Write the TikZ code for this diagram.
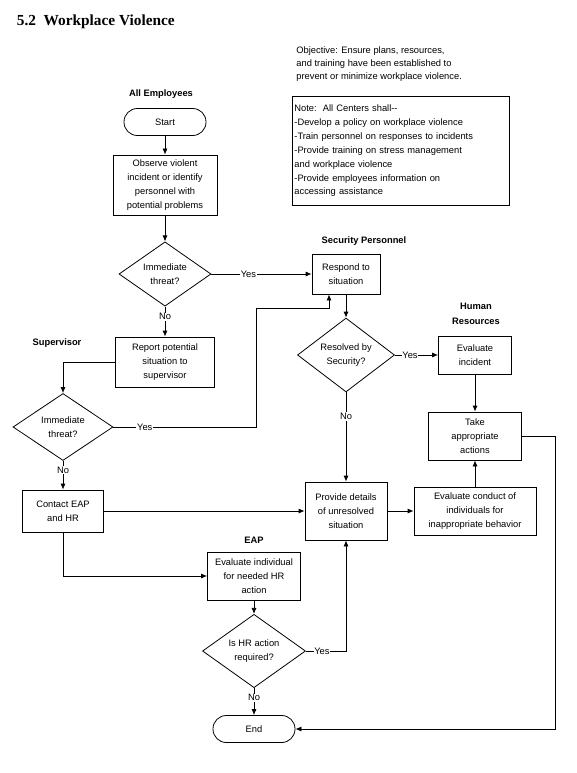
\documentclass[tikz,border=0pt]{standalone}
\usepackage{fontspec}
\setmainfont{Liberation Sans}
\newfontfamily\titlefont{Liberation Serif}
\usetikzlibrary{shapes.geometric,arrows.meta}

\begin{document}
\begin{tikzpicture}[x=0.75pt,y=-0.75pt,
    font=\fontsize{7}{10.4}\selectfont,
    line width=0.6pt,
    >={Latex[length=4.5pt,width=3.8pt]},
    box/.style={draw,align=center,inner sep=1pt},
    term/.style={draw,rounded corners=10pt,minimum width=61.5pt,minimum height=20.25pt},
    dec/.style={draw,diamond,align=center,inner sep=0pt},
    lane/.style={font=\fontsize{7}{11.25}\selectfont\bfseries,align=center},
    yn/.style={fill=white,inner sep=0.6pt}]
    \useasboundingbox (0,0) rectangle (577,773);
    \node[font=\titlefont\fontsize{11.5}{14}\selectfont\bfseries,anchor=base west] (title) at (12,26) {5.2\ \ Workplace Violence};
    \node[anchor=north west,align=left,inner sep=0pt,font=\fontsize{7}{9.75}\selectfont] (objective) at (296,46)
        {Objective: Ensure plans, resources,\\and training have been established to\\prevent or minimize workplace violence.};
    \node[draw,anchor=north west,align=left,text width=160pt,inner xsep=1.5pt,minimum height=81.75pt] (note) at (292,96)
        {Note:\ \ All Centers shall-{}-\\-Develop a policy on workplace violence\\-Train personnel on responses to incidents\\-Provide training on stress management\\and workplace violence\\-Provide employees information on\\accessing assistance};

    % lanes
    \node[lane] (allemp) at (161,94) {All Employees};
    \node[lane] (superv) at (57,343) {Supervisor};
    \node[lane] (secur) at (364,241) {Security Personnel};
    \node[lane] (hres) at (476,314) {Human\\Resources};
    \node[lane] (eap) at (254,540) {EAP};

    % steps
    \node[term] (start) at (165,122) {Start};
    \node[box,minimum width=78pt,minimum height=45pt] (observe) at (165,185) {Observe violent\\incident or identify\\personnel with\\potential problems};
    \node[dec,minimum width=69pt,minimum height=46.5pt] (dia1) at (165,274) {Immediate\\threat?};
    \node[box,minimum width=74.25pt,minimum height=37.5pt] (report) at (165,362) {Report potential\\situation to\\supervisor};
    \node[dec,minimum width=75pt,minimum height=50.25pt] (dia2) at (63,427) {Immediate\\threat?};
    \node[box,minimum width=60.75pt,minimum height=31.5pt] (contact) at (63,511) {Contact EAP\\and HR};
    \node[box,minimum width=51pt,minimum height=30pt] (respond) at (346,274) {Respond to\\situation};
    \node[dec,minimum width=72.75pt,minimum height=47.25pt] (resolved) at (346,355) {Resolved by\\Security?};
    \node[box,minimum width=61.5pt,minimum height=43.5pt] (provide) at (346,511) {Provide details\\of unresolved\\situation};
    \node[box,minimum width=54.75pt,minimum height=28.5pt] (evalinc) at (475,355) {Evaluate\\incident};
    \node[box,minimum width=69.75pt,minimum height=36pt] (take) at (475,436) {Take\\appropriate\\actions};
    \node[box,minimum width=91.5pt,minimum height=36pt] (evalcond) at (475,511) {Evaluate conduct of\\individuals for\\inappropriate behavior};
    \node[box,minimum width=69.75pt,minimum height=36pt] (evalind) at (254,576) {Evaluate individual\\for needed HR\\action};
    \node[dec,minimum width=77.25pt,minimum height=54pt] (ishr) at (254,651) {Is HR action\\required?};
    \node[term] (finish) at (254,729) {End};
    \coordinate (turn) at (256,308);

    % flow
    \draw[->] (start) -- (observe);
    \draw[->] (observe) -- (dia1);
    \draw[->] (dia1) -- node[yn,pos=0.37] {Yes} (respond);
    \draw[->] (dia1) -- node[yn,pos=0.34] {No} (report);
    \draw[->] (report.west) -| (dia2.north);
    \draw[->] (dia2.east) -- node[yn,pos=0.22] {Yes} (dia2.east -| turn) -- (turn) -| ([xshift=-12.75pt]respond.south);
    \draw[->] (dia2) -- node[yn,pos=0.32] {No} (contact);
    \draw[->] (respond) -- (resolved);
    \draw[->] (resolved) -- node[yn,pos=0.35] {Yes} (evalinc);
    \draw[->] (resolved) -- node[yn,pos=0.27] {No} (provide);
    \draw[->] (evalinc) -- (take);
    \draw[->] (evalcond) -- (take);
    \draw[->] (contact) -- (provide);
    \draw[->] (provide) -- (evalcond);
    \draw[->] (contact.south) |- (evalind.west);
    \draw[->] (evalind) -- (ishr);
    \draw[->] (ishr.east) -- node[yn,pos=0.4] {Yes} (ishr.east -| provide.south) -- (provide.south);
    \draw[->] (ishr) -- node[yn,pos=0.36] {No} (finish);
    \draw[->] (take.east) -- ++(33,0) |- (finish.east);
\end{tikzpicture}
\end{document}
